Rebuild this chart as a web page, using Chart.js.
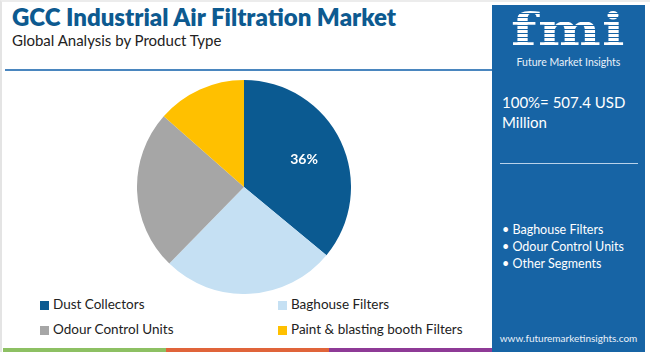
<!DOCTYPE html>
<html>
<head>
<meta charset="utf-8">
<script src="https://cdn.jsdelivr.net/npm/chart.js@4.4.1/dist/chart.umd.min.js"></script>
<style>
  html, body { margin: 0; padding: 0; }
  body { width: 650px; height: 352px; position: relative; overflow: hidden; background: #fff; font-family: "Lato", "Open Sans", sans-serif; }
  .frame { position: absolute; left: 0; top: 0; width: 650px; height: 352px; box-sizing: border-box; border-left: 2px solid #e4e4e4; border-top: 2px solid #ececec; }
  .title { position: absolute; left: 12px; top: 2px; font-size: 24px; font-weight: 800; color: #0d5a90; white-space: nowrap; }
  .subtitle { position: absolute; left: 12px; top: 31px; font-size: 15px; color: #222; white-space: nowrap; }
  .rule { position: absolute; left: 5px; top: 69px; width: 487px; height: 2px; background: #4a86bf; }
  .chart-box { position: absolute; left: 137px; top: 80px; width: 214px; height: 214px; }
  .legend { position: absolute; left: 40px; top: 296px; width: 440px; }
  .legend .item { position: absolute; font-size: 13.5px; color: #222; white-space: nowrap; }
  .legend .box { display: inline-block; width: 9px; height: 9px; margin-right: 4px; vertical-align: -1px; }
  .bottom-bar { position: absolute; left: 3px; top: 348px; height: 4px; width: 489px; display: flex; }
  .bottom-bar div { flex: 1; }
  .panel { position: absolute; left: 492px; top: 5px; width: 153px; height: 347px; background: #1764a5; color: #fff; }
  .fmi { position: absolute; left: 0; top: 1px; width: 153px; text-align: center; font-family: "DejaVu Serif", serif; font-weight: bold; font-size: 44px; line-height: 48px; letter-spacing: 1px; transform: scaleX(1.35);
    background: repeating-linear-gradient(to bottom, #fff 0 3px, #1764a5 3px 4px); -webkit-background-clip: text; background-clip: text; color: transparent; }
  .logo-name { position: absolute; left: 0; top: 50px; width: 153px; text-align: center; font-size: 10.5px; line-height: 14px; color: #eaf2fa; }
  .total { position: absolute; left: 10px; top: 87px; font-size: 15px; line-height: 20px; }
  .panel-rule { position: absolute; left: 8px; top: 158px; width: 138px; height: 1px; background: #b9d2ea; }
  .bullets { position: absolute; left: 10px; top: 216px; font-size: 12.5px; line-height: 17px; }
  .url { position: absolute; left: 0; width: 153px; text-align: center; top: 327px; font-size: 10px; color: #eaf2fa; }
</style>
</head>
<body>
<div class="frame"></div>
<div class="title">GCC Industrial Air Filtration Market</div>
<div class="subtitle">Global Analysis by Product Type</div>
<div class="rule"></div>
<div class="chart-box"><canvas id="pie"></canvas></div>
<div class="legend" id="legend"></div>
<div class="bottom-bar"><div style="background:#8dc063"></div><div style="background:#e0643a"></div><div style="background:#8e3a96"></div></div>
<div class="panel">
  <div class="fmi">fmi</div>
  <div class="logo-name">Future Market Insights</div>
  <div class="total">100%= 507.4 USD<br>Million</div>
  <div class="panel-rule"></div>
  <div class="bullets">• Baghouse Filters<br>• Odour Control Units<br>• Other Segments</div>
  <div class="url">www.futuremarketinsights.com</div>
</div>
<script>
const segments = ['Dust Collectors', 'Baghouse Filters', 'Odour Control Units', 'Paint & blasting booth Filters'];
const shares = [36, 26.3, 24.2, 13.5];
const colors = ['#0b5a91', '#c5e0f3', '#a6a6a6', '#ffc000'];
const labelled = ['36%', '', '', ''];

// legend, two columns
const legendEl = document.getElementById('legend');
segments.forEach((name, i) => {
  const item = document.createElement('div');
  item.className = 'item';
  item.style.left = (i % 2 ? 238 : 0) + 'px';
  item.style.top = (Math.floor(i / 2) * 25) + 'px';
  item.innerHTML = '<span class="box" style="background:' + colors[i] + '"></span>';
  item.appendChild(document.createTextNode(name));
  legendEl.appendChild(item);
});

const sliceLabels = {
  id: 'sliceLabels',
  afterDatasetsDraw(chart) {
    const ctx = chart.ctx;
    const meta = chart.getDatasetMeta(0);
    meta.data.forEach((arc, i) => {
      if (!labelled[i]) return;
      const mid = (arc.startAngle + arc.endAngle) / 2;
      const r = arc.outerRadius * 0.62;
      ctx.save();
      ctx.fillStyle = '#fff';
      ctx.font = 'bold 14px Lato, sans-serif';
      ctx.textAlign = 'center';
      ctx.textBaseline = 'middle';
      ctx.fillText(labelled[i], arc.x + Math.cos(mid) * r, arc.y + Math.sin(mid) * r + 1);
      ctx.restore();
    });
  }
};

new Chart(document.getElementById('pie'), {
  type: 'pie',
  data: {
    labels: segments,
    datasets: [{ data: shares, backgroundColor: colors, borderWidth: 0 }]
  },
  options: {
    responsive: true,
    maintainAspectRatio: false,
    animation: false,
    layout: { padding: 0 },
    plugins: { legend: { display: false }, tooltip: { enabled: false } }
  },
  plugins: [sliceLabels]
});
</script>
</body>
</html>
